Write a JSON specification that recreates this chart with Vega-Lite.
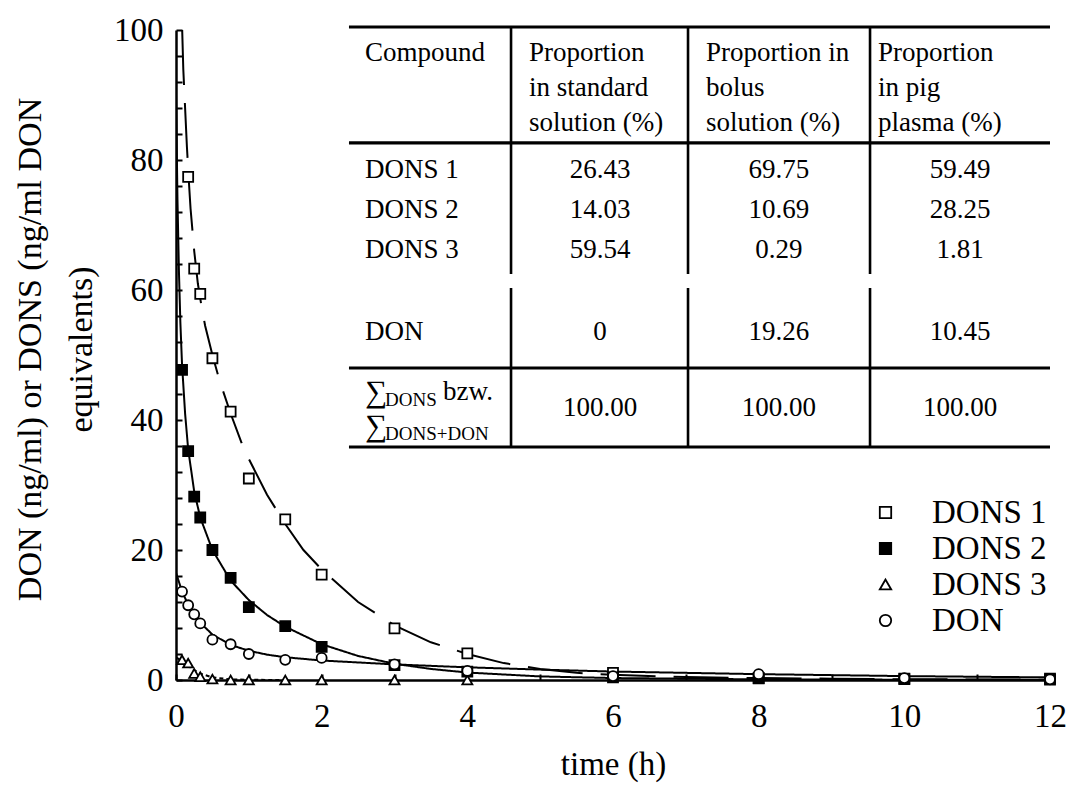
{
  "$schema": "https://vega.github.io/schema/vega-lite/v6.json",
  "width": 874,
  "height": 650,
  "autosize": "none",
  "padding": {"left": 176, "top": 30, "right": 19, "bottom": 110},
  "background": "white",
  "config": {
    "view": {"stroke": null},
    "font": "Liberation Serif",
    "axis": {
      "grid": false,
      "domainColor": "black",
      "domainWidth": 2.5,
      "tickColor": "black",
      "tickWidth": 2,
      "tickSize": -6,
      "labelFont": "Liberation Serif",
      "labelFontSize": 33,
      "labelColor": "black",
      "titleFont": "Liberation Serif",
      "titleFontWeight": "normal",
      "titleColor": "black",
      "labelFlush": false,
      "labelOverlap": false
    },
    "axisX": {"labelPadding": 26, "titleFontSize": 33, "titleY": 84, "titleBaseline": "middle"},
    "axisY": {"labelPadding": 19, "titleFontSize": 34, "titleX": -163, "titleY": 319, "titleAngle": -90, "titleBaseline": "top", "titleAlign": "center", "titleLineHeight": 51},
    "legend": {"symbolStrokeColor": "black", "symbolStrokeWidth": 1.8}
  },
  "datasets": {
    "obs": [
      {"s": "DONS 1", "t": 0.167, "v": 77.4}, {"s": "DONS 1", "t": 0.25, "v": 63.3}, {"s": "DONS 1", "t": 0.333, "v": 59.4},
      {"s": "DONS 1", "t": 0.5, "v": 49.5}, {"s": "DONS 1", "t": 0.75, "v": 41.3}, {"s": "DONS 1", "t": 1, "v": 31.0},
      {"s": "DONS 1", "t": 1.5, "v": 24.7}, {"s": "DONS 1", "t": 2, "v": 16.2}, {"s": "DONS 1", "t": 3, "v": 7.95},
      {"s": "DONS 1", "t": 4, "v": 4.1}, {"s": "DONS 1", "t": 6, "v": 1.1}, {"s": "DONS 1", "t": 8, "v": 0.3},
      {"s": "DONS 1", "t": 10, "v": 0.15}, {"s": "DONS 1", "t": 12, "v": 0.05},
      {"s": "DONS 2", "t": 0.083, "v": 47.7}, {"s": "DONS 2", "t": 0.167, "v": 35.2}, {"s": "DONS 2", "t": 0.25, "v": 28.2},
      {"s": "DONS 2", "t": 0.333, "v": 25.0}, {"s": "DONS 2", "t": 0.5, "v": 20.0}, {"s": "DONS 2", "t": 0.75, "v": 15.7},
      {"s": "DONS 2", "t": 1, "v": 11.2}, {"s": "DONS 2", "t": 1.5, "v": 8.3}, {"s": "DONS 2", "t": 2, "v": 5.1},
      {"s": "DONS 2", "t": 3, "v": 2.3}, {"s": "DONS 2", "t": 4, "v": 1.3}, {"s": "DONS 2", "t": 6, "v": 0.4},
      {"s": "DONS 2", "t": 8, "v": 0.25}, {"s": "DONS 2", "t": 10, "v": 0.2}, {"s": "DONS 2", "t": 12, "v": 0.2},
      {"s": "DONS 3", "t": 0.083, "v": 3.1}, {"s": "DONS 3", "t": 0.167, "v": 2.6}, {"s": "DONS 3", "t": 0.25, "v": 1.0},
      {"s": "DONS 3", "t": 0.333, "v": 0.5}, {"s": "DONS 3", "t": 0.5, "v": 0.15}, {"s": "DONS 3", "t": 0.75, "v": 0},
      {"s": "DONS 3", "t": 1, "v": 0}, {"s": "DONS 3", "t": 1.5, "v": 0}, {"s": "DONS 3", "t": 2, "v": 0},
      {"s": "DONS 3", "t": 3, "v": 0}, {"s": "DONS 3", "t": 4, "v": 0},
      {"s": "DON", "t": 0.083, "v": 13.6}, {"s": "DON", "t": 0.167, "v": 11.5}, {"s": "DON", "t": 0.25, "v": 10.1},
      {"s": "DON", "t": 0.333, "v": 8.7}, {"s": "DON", "t": 0.5, "v": 6.2}, {"s": "DON", "t": 0.75, "v": 5.5},
      {"s": "DON", "t": 1, "v": 4.0}, {"s": "DON", "t": 1.5, "v": 3.1}, {"s": "DON", "t": 2, "v": 3.4},
      {"s": "DON", "t": 3, "v": 2.4}, {"s": "DON", "t": 4, "v": 1.4}, {"s": "DON", "t": 6, "v": 0.6},
      {"s": "DON", "t": 8, "v": 0.9}, {"s": "DON", "t": 10, "v": 0.3}, {"s": "DON", "t": 12, "v": 0.1}
    ],
    "fit": [
      {"s": "DONS 1", "t": 0.085, "v": 100}, {"s": "DONS 1", "t": 0.1, "v": 94}, {"s": "DONS 1", "t": 0.125, "v": 88},
      {"s": "DONS 1", "t": 0.15, "v": 82}, {"s": "DONS 1", "t": 0.175, "v": 77}, {"s": "DONS 1", "t": 0.2, "v": 72.5},
      {"s": "DONS 1", "t": 0.25, "v": 66}, {"s": "DONS 1", "t": 0.3, "v": 61}, {"s": "DONS 1", "t": 0.35, "v": 57.5},
      {"s": "DONS 1", "t": 0.4, "v": 54.5}, {"s": "DONS 1", "t": 0.5, "v": 50}, {"s": "DONS 1", "t": 0.6, "v": 46},
      {"s": "DONS 1", "t": 0.75, "v": 41}, {"s": "DONS 1", "t": 0.9, "v": 36.5}, {"s": "DONS 1", "t": 1, "v": 34},
      {"s": "DONS 1", "t": 1.25, "v": 28.5}, {"s": "DONS 1", "t": 1.5, "v": 24}, {"s": "DONS 1", "t": 1.75, "v": 20},
      {"s": "DONS 1", "t": 2, "v": 17}, {"s": "DONS 1", "t": 2.5, "v": 12}, {"s": "DONS 1", "t": 3, "v": 8.4},
      {"s": "DONS 1", "t": 3.5, "v": 5.8}, {"s": "DONS 1", "t": 4, "v": 4.0}, {"s": "DONS 1", "t": 4.5, "v": 2.6},
      {"s": "DONS 1", "t": 5, "v": 1.7}, {"s": "DONS 1", "t": 5.5, "v": 1.1}, {"s": "DONS 1", "t": 6, "v": 0.8},
      {"s": "DONS 1", "t": 7, "v": 0.45}, {"s": "DONS 1", "t": 8, "v": 0.3}, {"s": "DONS 1", "t": 9, "v": 0.2},
      {"s": "DONS 1", "t": 10, "v": 0.12}, {"s": "DONS 1", "t": 11, "v": 0.08}, {"s": "DONS 1", "t": 12, "v": 0.05},
      {"s": "DONS 2", "t": 0, "v": 90}, {"s": "DONS 2", "t": 0.02, "v": 74}, {"s": "DONS 2", "t": 0.04, "v": 63},
      {"s": "DONS 2", "t": 0.06, "v": 55}, {"s": "DONS 2", "t": 0.083, "v": 48.5}, {"s": "DONS 2", "t": 0.125, "v": 41},
      {"s": "DONS 2", "t": 0.167, "v": 35.5}, {"s": "DONS 2", "t": 0.25, "v": 29}, {"s": "DONS 2", "t": 0.333, "v": 25},
      {"s": "DONS 2", "t": 0.5, "v": 20}, {"s": "DONS 2", "t": 0.75, "v": 15.3}, {"s": "DONS 2", "t": 1, "v": 12.3},
      {"s": "DONS 2", "t": 1.25, "v": 10}, {"s": "DONS 2", "t": 1.5, "v": 8.2}, {"s": "DONS 2", "t": 2, "v": 5.5},
      {"s": "DONS 2", "t": 2.5, "v": 3.7}, {"s": "DONS 2", "t": 3, "v": 2.5}, {"s": "DONS 2", "t": 3.5, "v": 1.7},
      {"s": "DONS 2", "t": 4, "v": 1.15}, {"s": "DONS 2", "t": 5, "v": 0.55}, {"s": "DONS 2", "t": 6, "v": 0.3},
      {"s": "DONS 2", "t": 8, "v": 0.1}, {"s": "DONS 2", "t": 10, "v": 0.05}, {"s": "DONS 2", "t": 12, "v": 0.02},
      {"s": "DONS 3", "t": 0, "v": 3.5}, {"s": "DONS 3", "t": 0.083, "v": 2.9}, {"s": "DONS 3", "t": 0.167, "v": 2.2},
      {"s": "DONS 3", "t": 0.25, "v": 1.5}, {"s": "DONS 3", "t": 0.333, "v": 1.0}, {"s": "DONS 3", "t": 0.5, "v": 0.4},
      {"s": "DONS 3", "t": 0.75, "v": 0.1}, {"s": "DONS 3", "t": 1, "v": 0.03}, {"s": "DONS 3", "t": 1.5, "v": 0},
      {"s": "DON", "t": 0, "v": 16.5}, {"s": "DON", "t": 0.083, "v": 13.6}, {"s": "DON", "t": 0.167, "v": 11.6},
      {"s": "DON", "t": 0.25, "v": 10}, {"s": "DON", "t": 0.333, "v": 8.8}, {"s": "DON", "t": 0.5, "v": 7},
      {"s": "DON", "t": 0.75, "v": 5.4}, {"s": "DON", "t": 1, "v": 4.5}, {"s": "DON", "t": 1.25, "v": 3.9},
      {"s": "DON", "t": 1.5, "v": 3.5}, {"s": "DON", "t": 2, "v": 3.0}, {"s": "DON", "t": 3, "v": 2.4},
      {"s": "DON", "t": 4, "v": 1.95}, {"s": "DON", "t": 5, "v": 1.6}, {"s": "DON", "t": 6, "v": 1.3},
      {"s": "DON", "t": 8, "v": 0.9}, {"s": "DON", "t": 10, "v": 0.6}, {"s": "DON", "t": 12, "v": 0.4}
    ],
    "hlines": [
      {"t": 2.375, "t2": 12.0, "v": 100.46},
      {"t": 2.375, "t2": 12.0, "v": 82.62},
      {"t": 2.375, "t2": 12.0, "v": 48.0},
      {"t": 2.375, "t2": 12.0, "v": 35.85}
    ],
    "vlines": [
      {"t": 4.600, "v": 100.46, "v2": 62.46}, {"t": 4.600, "v": 60.31, "v2": 35.85},
      {"t": 7.030, "v": 100.46, "v2": 62.46}, {"t": 7.030, "v": 60.31, "v2": 35.85},
      {"t": 9.529, "v": 100.46, "v2": 62.46}, {"t": 9.529, "v": 60.31, "v2": 35.85}
    ],
    "tleft": [
      {"label": "Compound", "t": 2.595, "v": 96.46},
      {"label": "Proportion", "t": 4.847, "v": 96.46},
      {"label": "in standard", "t": 4.847, "v": 91.08},
      {"label": "solution (%)", "t": 4.847, "v": 85.69},
      {"label": "Proportion in", "t": 7.277, "v": 96.46},
      {"label": "bolus", "t": 7.277, "v": 91.08},
      {"label": "solution (%)", "t": 7.277, "v": 85.69},
      {"label": "Proportion", "t": 9.639, "v": 96.46},
      {"label": "in pig", "t": 9.639, "v": 91.08},
      {"label": "plasma (%)", "t": 9.639, "v": 85.69},
      {"label": "DONS 1", "t": 2.595, "v": 78.46},
      {"label": "DONS 2", "t": 2.595, "v": 72.31},
      {"label": "DONS 3", "t": 2.595, "v": 66.15},
      {"label": "DON", "t": 2.595, "v": 53.54},
      {"label": "bzw.", "t": 3.666, "v": 44.31}
    ],
    "tcenter": [
      {"label": "26.43", "t": 5.822, "v": 78.46}, {"label": "69.75", "t": 8.279, "v": 78.46}, {"label": "59.49", "t": 10.765, "v": 78.46},
      {"label": "14.03", "t": 5.822, "v": 72.31}, {"label": "10.69", "t": 8.279, "v": 72.31}, {"label": "28.25", "t": 10.765, "v": 72.31},
      {"label": "59.54", "t": 5.822, "v": 66.15}, {"label": "0.29", "t": 8.279, "v": 66.15}, {"label": "1.81", "t": 10.765, "v": 66.15},
      {"label": "0", "t": 5.822, "v": 53.54}, {"label": "19.26", "t": 8.279, "v": 53.54}, {"label": "10.45", "t": 10.765, "v": 53.54},
      {"label": "100.00", "t": 5.822, "v": 41.85}, {"label": "100.00", "t": 8.279, "v": 41.85}, {"label": "100.00", "t": 10.765, "v": 41.85}
    ],
    "tsigma": [
      {"label": "∑", "t": 2.595, "v": 44.15},
      {"label": "∑", "t": 2.595, "v": 38.92}
    ],
    "tsub": [
      {"label": "DONS", "t": 2.870, "v": 43.08},
      {"label": "DONS+DON", "t": 2.870, "v": 37.85}
    ]
  },
  "layer": [
    {
      "data": {"name": "hlines"},
      "mark": {"type": "rule", "color": "black", "strokeWidth": 3.2, "clip": false},
      "encoding": {
        "x": {"field": "t", "type": "quantitative", "scale": {"domain": [0, 12], "nice": false},
          "title": "time (h)",
          "axis": {"values": [0,1,2,3,4,5,6,7,8,9,10,11,12], "tickCount": 20, "format": "d", "labelOverlap": false,
            "labelExpr": "datum.value % 2 === 0 ? datum.label : ''"}},
        "x2": {"field": "t2"},
        "y": {"field": "v", "type": "quantitative", "scale": {"domain": [0, 100], "nice": false},
          "title": ["DON (ng/ml) or DONS (ng/ml DON", "equivalents)"],
          "axis": {"values": [0,4,8,12,16,20,24,28,32,36,40,44,48,52,56,60,64,68,72,76,80,84,88,92,96,100], "tickCount": 40, "format": "d", "labelOverlap": false,
            "labelExpr": "datum.value % 20 === 0 ? datum.label : ''"}}
      }
    },
    {
      "data": {"name": "vlines"},
      "mark": {"type": "rule", "color": "black", "strokeWidth": 2.6, "clip": false},
      "encoding": {
        "x": {"field": "t", "type": "quantitative"},
        "y": {"field": "v", "type": "quantitative"},
        "y2": {"field": "v2"}
      }
    },
    {
      "data": {"name": "tleft"},
      "mark": {"type": "text", "align": "left", "baseline": "middle", "font": "Liberation Serif", "fontSize": 27, "color": "black"},
      "encoding": {
        "x": {"field": "t", "type": "quantitative"},
        "y": {"field": "v", "type": "quantitative"},
        "text": {"field": "label"}
      }
    },
    {
      "data": {"name": "tcenter"},
      "mark": {"type": "text", "align": "center", "baseline": "middle", "font": "Liberation Serif", "fontSize": 27, "color": "black"},
      "encoding": {
        "x": {"field": "t", "type": "quantitative"},
        "y": {"field": "v", "type": "quantitative"},
        "text": {"field": "label"}
      }
    },
    {
      "data": {"name": "tsigma"},
      "mark": {"type": "text", "align": "left", "baseline": "middle", "font": "Liberation Serif", "fontSize": 31, "color": "black"},
      "encoding": {
        "x": {"field": "t", "type": "quantitative"},
        "y": {"field": "v", "type": "quantitative"},
        "text": {"field": "label"}
      }
    },
    {
      "data": {"name": "tsub"},
      "mark": {"type": "text", "align": "left", "baseline": "middle", "font": "Liberation Serif", "fontSize": 19, "color": "black"},
      "encoding": {
        "x": {"field": "t", "type": "quantitative"},
        "y": {"field": "v", "type": "quantitative"},
        "text": {"field": "label"}
      }
    },
    {
      "data": {"name": "fit"},
      "mark": {"type": "line", "color": "black", "strokeWidth": 2, "clip": true},
      "encoding": {
        "x": {"field": "t", "type": "quantitative"},
        "y": {"field": "v", "type": "quantitative"},
        "detail": {"field": "s", "type": "nominal"},
        "strokeDash": {"field": "s", "type": "nominal", "legend": null,
          "scale": {"range": [[1, 0], [55, 18], [1, 0], [4, 3]]}}
      }
    },
    {
      "data": {"name": "obs"},
      "mark": {"type": "point", "filled": true, "strokeWidth": 1.8, "size": 100, "opacity": 1},
      "encoding": {
        "x": {"field": "t", "type": "quantitative"},
        "y": {"field": "v", "type": "quantitative"},
        "shape": {"field": "s", "type": "nominal",
          "scale": {"domain": ["DONS 1", "DONS 2", "DONS 3", "DON"], "range": ["square", "square", "triangle-up", "circle"]},
          "legend": {"orient": "none", "legendX": 693, "legendY": 466, "title": null, "padding": 0,
            "labelFont": "Liberation Serif", "labelFontSize": 33, "labelColor": "black", "labelOffset": 30,
            "symbolSize": 130, "rowPadding": 2}},
        "fill": {"field": "s", "type": "nominal",
          "scale": {"domain": ["DONS 1", "DONS 2", "DONS 3", "DON"], "range": ["white", "black", "white", "white"]},
          "legend": {"orient": "none", "legendX": 693, "legendY": 466, "title": null, "padding": 0,
            "labelFont": "Liberation Serif", "labelFontSize": 33, "labelColor": "black", "labelOffset": 30,
            "symbolSize": 130, "rowPadding": 2}},
        "stroke": {"field": "s", "type": "nominal",
          "scale": {"domain": ["DONS 1", "DONS 2", "DONS 3", "DON"], "range": ["black", "black", "black", "black"]},
          "legend": {"orient": "none", "legendX": 693, "legendY": 466, "title": null, "padding": 0,
            "labelFont": "Liberation Serif", "labelFontSize": 33, "labelColor": "black", "labelOffset": 30,
            "symbolSize": 130, "rowPadding": 2}}
      }
    }
  ]
}
